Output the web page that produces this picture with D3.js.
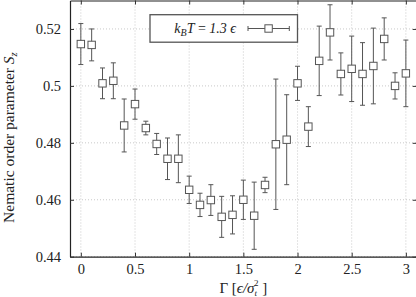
<!DOCTYPE html>
<html>
<head>
<meta charset="utf-8">
<script src="https://cdn.jsdelivr.net/npm/d3@7"></script>
<style>
  body { margin: 0; background: #fff; }
  svg { display: block; font-family: "Liberation Serif", "DejaVu Serif", serif; }
</style>
</head>
<body>
<div id="container"></div>
<script>
const gamma = [0, 0.1, 0.2, 0.3, 0.4, 0.5, 0.6, 0.7, 0.8, 0.9, 1.0,
  1.1, 1.2, 1.3, 1.4, 1.5, 1.6, 1.7, 1.8, 1.9, 2.0,
  2.1, 2.2, 2.3, 2.4, 2.5, 2.6, 2.7, 2.8, 2.9, 3.0]
const sz = [0.5147, 0.5144, 0.5009, 0.5018, 0.4861, 0.4936, 0.4852, 0.4796, 0.4744, 0.4744, 0.4635,
  0.4582, 0.4599, 0.4540, 0.4547, 0.4600, 0.4544, 0.4652, 0.4795, 0.4811, 0.5009,
  0.4857, 0.5088, 0.5188, 0.5042, 0.5060, 0.5042, 0.5070, 0.5165, 0.5000, 0.5044]
const szErr = [0.0072, 0.0056, 0.0054, 0.0063, 0.0093, 0.0053, 0.0024, 0.0037, 0.0073, 0.0084, 0.0048,
  0.0041, 0.0054, 0.0072, 0.0067, 0.0069, 0.0118, 0.0027, 0.0229, 0.0158, 0.0060,
  0.0070, 0.0122, 0.0097, 0.0074, 0.0115, 0.0110, 0.0133, 0.0074, 0.0046, 0.0117]
const xTicks = [0, 0.5, 1, 1.5, 2, 2.5, 3]
const xTickLabels = ['0', '0.5', '1', '1.5', '2', '2.5', '3']
const yTicks = [0.44, 0.46, 0.48, 0.5, 0.52]
const yTickLabels = ['0.44', '0.46', '0.48', '0.5', '0.52']

const width = 416
const height = 297
const padLeft = 70
const padRight = 416.7
const padTop = 0.5
const padBottom = 256.7
const tickLen = 4
const serif = '"Liberation Serif", "DejaVu Serif", serif'

const data = gamma.map((g, i) => ({ g, v: sz[i], e: szErr[i] }))

const svg = d3.select('#container')
  .append('svg')
  .attr('width', width)
  .attr('height', height)

const scaleX = d3.scaleLinear().domain([-0.1, 3.1]).range([padLeft, padRight])
const scaleY = d3.scaleLinear().domain([0.44, 0.53]).range([padBottom, padTop])

// grid
const grid = svg.append('g')
  .attr('stroke', '#bbb')
  .attr('stroke-width', 0.8)
  .attr('stroke-dasharray', '1,2')
grid.selectAll('.gx')
  .data(xTicks)
  .enter()
  .append('line')
  .attr('x1', d => scaleX(d)).attr('x2', d => scaleX(d))
  .attr('y1', padTop).attr('y2', padBottom)
grid.selectAll('.gy')
  .data(yTicks)
  .enter()
  .append('line')
  .attr('x1', padLeft).attr('x2', padRight)
  .attr('y1', d => scaleY(d)).attr('y2', d => scaleY(d))

// axes with inward ticks, mirrored on top and right
const axisB = d3.axisBottom(scaleX).tickValues(xTicks)
  .tickFormat((d, i) => xTickLabels[i]).tickSizeInner(-tickLen).tickSizeOuter(0).tickPadding(7)
const axisT = d3.axisTop(scaleX).tickValues(xTicks)
  .tickFormat('').tickSizeInner(-tickLen).tickSizeOuter(0)
const axisL = d3.axisLeft(scaleY).tickValues(yTicks)
  .tickFormat((d, i) => yTickLabels[i]).tickSizeInner(-tickLen).tickSizeOuter(0).tickPadding(9)
const axisR = d3.axisRight(scaleY).tickValues(yTicks)
  .tickFormat('').tickSizeInner(-tickLen).tickSizeOuter(0)

const styleAxis = g => {
  g.attr('font-family', serif).attr('font-size', 14.5)
  g.select('.domain').attr('stroke', '#222').attr('stroke-width', 1.2)
  g.selectAll('.tick line').attr('stroke', '#333')
  g.selectAll('.tick text').attr('fill', '#222')
}

svg.append('g').attr('transform', `translate(0, ${padBottom})`).call(axisB).call(styleAxis)
svg.append('g').attr('transform', `translate(0, ${padTop})`).call(axisT).call(styleAxis)
svg.append('g').attr('transform', `translate(${padLeft}, 0)`).call(axisL).call(styleAxis)
svg.append('g').attr('transform', `translate(${padRight}, 0)`).call(axisR).call(styleAxis)

// error bars
const bars = svg.append('g')
  .attr('stroke', '#555')
  .attr('stroke-width', 1)
  .attr('fill', 'none')
bars.selectAll('.eb')
  .data(data)
  .enter()
  .append('path')
  .attr('d', d => {
    const x = scaleX(d.g)
    const y1 = scaleY(d.v + d.e)
    const y2 = scaleY(d.v - d.e)
    return `M${x - 2.5},${y1}H${x + 2.5}M${x},${y1}V${y2}M${x - 2.5},${y2}H${x + 2.5}`
  })

// square markers
svg.append('g')
  .selectAll('rect')
  .data(data)
  .enter()
  .append('rect')
  .attr('x', d => scaleX(d.g) - 3.7)
  .attr('y', d => scaleY(d.v) - 3.7)
  .attr('width', 7.4)
  .attr('height', 7.4)
  .attr('fill', '#fff')
  .attr('stroke', '#555')
  .attr('stroke-width', 1)

// legend
const legend = svg.append('g')
legend.append('rect')
  .attr('x', 150).attr('y', 14.7)
  .attr('width', 147.5).attr('height', 27.5)
  .attr('fill', '#fff')
  .attr('stroke', '#555')
  .attr('stroke-width', 1.3)
const lt = legend.append('text')
  .attr('x', 236).attr('y', 33)
  .attr('text-anchor', 'end')
  .attr('fill', '#222')
  .style('font-size', '14px')
lt.append('tspan').style('font-style', 'italic').text('k')
lt.append('tspan').attr('dy', 3).style('font-size', '10px').style('font-style', 'italic').text('B')
lt.append('tspan').attr('dy', -3).style('font-style', 'italic').text('T')
lt.append('tspan').text(' = ')
lt.append('tspan').style('font-style', 'italic').text('1.3 \u03f5')
legend.append('path')
  .attr('d', 'M248,28.5H289.3M248,26V31M289.3,26V31')
  .attr('stroke', '#555')
  .attr('fill', 'none')
legend.append('rect')
  .attr('x', 268.6 - 3.7).attr('y', 28.5 - 3.7)
  .attr('width', 7.4).attr('height', 7.4)
  .attr('fill', '#fff')
  .attr('stroke', '#555')

// axis labels
const xl = svg.append('text')
  .attr('x', (padLeft + padRight) / 2)
  .attr('y', 293)
  .attr('text-anchor', 'middle')
  .attr('fill', '#222')
  .style('font-size', '15px')
xl.append('tspan').text('\u0393 [')
xl.append('tspan').style('font-style', 'italic').text('\u03f5/\u03c3')
xl.append('tspan').attr('dy', 3).style('font-size', '9px').style('font-style', 'italic').text('t')
xl.append('tspan').attr('dy', -10).attr('dx', -3).style('font-size', '9px').text('2')
xl.append('tspan').attr('dy', 7).text(' ]')

const yl = svg.append('text')
  .attr('transform', `translate(14, ${(padTop + padBottom) / 2 + 9}) rotate(-90)`)
  .attr('text-anchor', 'middle')
  .attr('fill', '#222')
  .style('font-size', '15.5px')
yl.append('tspan').text('Nematic order parameter ')
yl.append('tspan').style('font-style', 'italic').text('S')
yl.append('tspan').attr('dy', 3).style('font-size', '10.5px').style('font-style', 'italic').text('z')
</script>
</body>
</html>
